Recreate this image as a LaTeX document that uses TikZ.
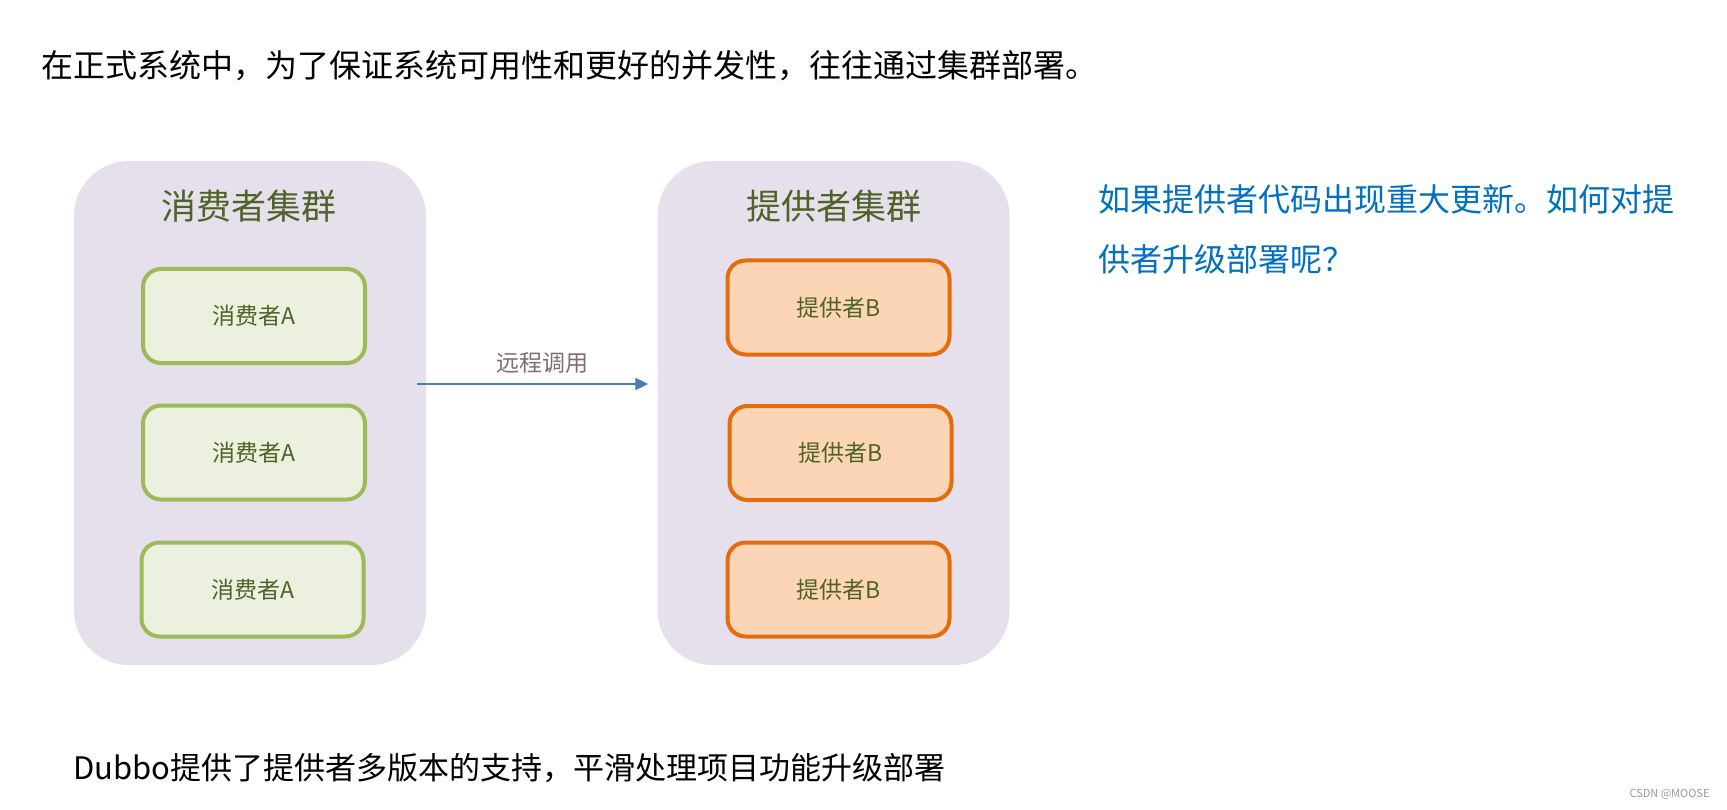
\documentclass[tikz,border=0pt]{standalone}
\usepackage{fontspec}
\newfontfamily\cjk{Noto Sans CJK SC}
\usepackage{tikz}
\usetikzlibrary{arrows.meta, positioning, calc}
\definecolor{clusterbg}{HTML}{E6E0EC}
\definecolor{olivetext}{HTML}{4F6228}
\definecolor{consumerbg}{HTML}{EBF1DE}
\definecolor{consumerline}{HTML}{9BBB59}
\definecolor{providerbg}{HTML}{FBD5B5}
\definecolor{providerline}{HTML}{E46C0A}
\definecolor{callblue}{HTML}{4A7EBB}
\definecolor{callgray}{HTML}{7F6F6F}
\definecolor{askblue}{HTML}{0070C0}

\begin{document}
\begin{tikzpicture}[x=1pt, y=-1pt,
    cluster/.style={fill=clusterbg, rounded corners=55pt, minimum width=352pt, minimum height=504pt, inner sep=0pt},
    clustertitle/.style={font=\cjk\fontsize{35}{42}\selectfont, text=olivetext},
    consumer/.style={draw=consumerline, fill=consumerbg, line width=4pt, rounded corners=18pt, minimum width=222pt, minimum height=94pt, font=\cjk\fontsize{23}{28}\selectfont, text=olivetext},
    provider/.style={consumer, draw=providerline, fill=providerbg},
    bodytext/.style={font=\cjk\fontsize{32}{38}\selectfont, anchor=west, inner sep=0pt}]
    \useasboundingbox[fill=white] (0,0) rectangle (1727,810);

    % Heading line
    \node[bodytext] (intro) at (41,66) {在正式系统中，为了保证系统可用性和更好的并发性，往往通过集群部署。};

    % Clusters
    \node[cluster] (consumers) at (250,413) {};
    \node[cluster] (providers) at (833.5,413) {};
    \node[clustertitle] (ctitle) at (249,206) {消费者集群};
    \node[clustertitle] (ptitle) at (834,206) {提供者集群};

    % Consumer boxes
    \node[consumer] (consA1) at (254,316) {消费者A};
    \node[consumer] (consA2) at (254,452.5) {消费者A};
    \node[consumer] (consA3) at (252.5,589.5) {消费者A};

    % Provider boxes
    \node[provider] (provB1) at (838.5,307.5) {提供者B};
    \node[provider] (provB2) at (840.5,453) {提供者B};
    \node[provider] (provB3) at (838.5,589.5) {提供者B};

    % Remote call
    \coordinate (callstart) at ($(consumers.east)+(-9,-29)$);
    \coordinate (callend) at ($(providers.west)+(-9,-29)$);
    \draw[callblue, line width=2pt, -{Triangle[length=13pt,width=12pt]}] (callstart) -- (callend)
        node[midway, above=6pt, xshift=10pt, text=callgray, font=\cjk\fontsize{23}{28}\selectfont] (calllabel) {远程调用};

    % Question
    \node[bodytext, text=askblue] (ask1) at (1098,199) {如果提供者代码出现重大更新。如何对提};
    \node[bodytext, text=askblue] (ask2) at (1098,259) {供者升级部署呢？};

    % Answer
    \node[bodytext, font=\cjk\fontsize{31}{37}\selectfont] (answer) at (73,768) {Dubbo提供了提供者多版本的支持，平滑处理项目功能升级部署};

    % Watermark
    \node[font=\cjk\fontsize{11}{13}\selectfont, text=gray!80, anchor=east] (mark) at (1713,794) {CSDN @MOOSE};
\end{tikzpicture}
\end{document}
